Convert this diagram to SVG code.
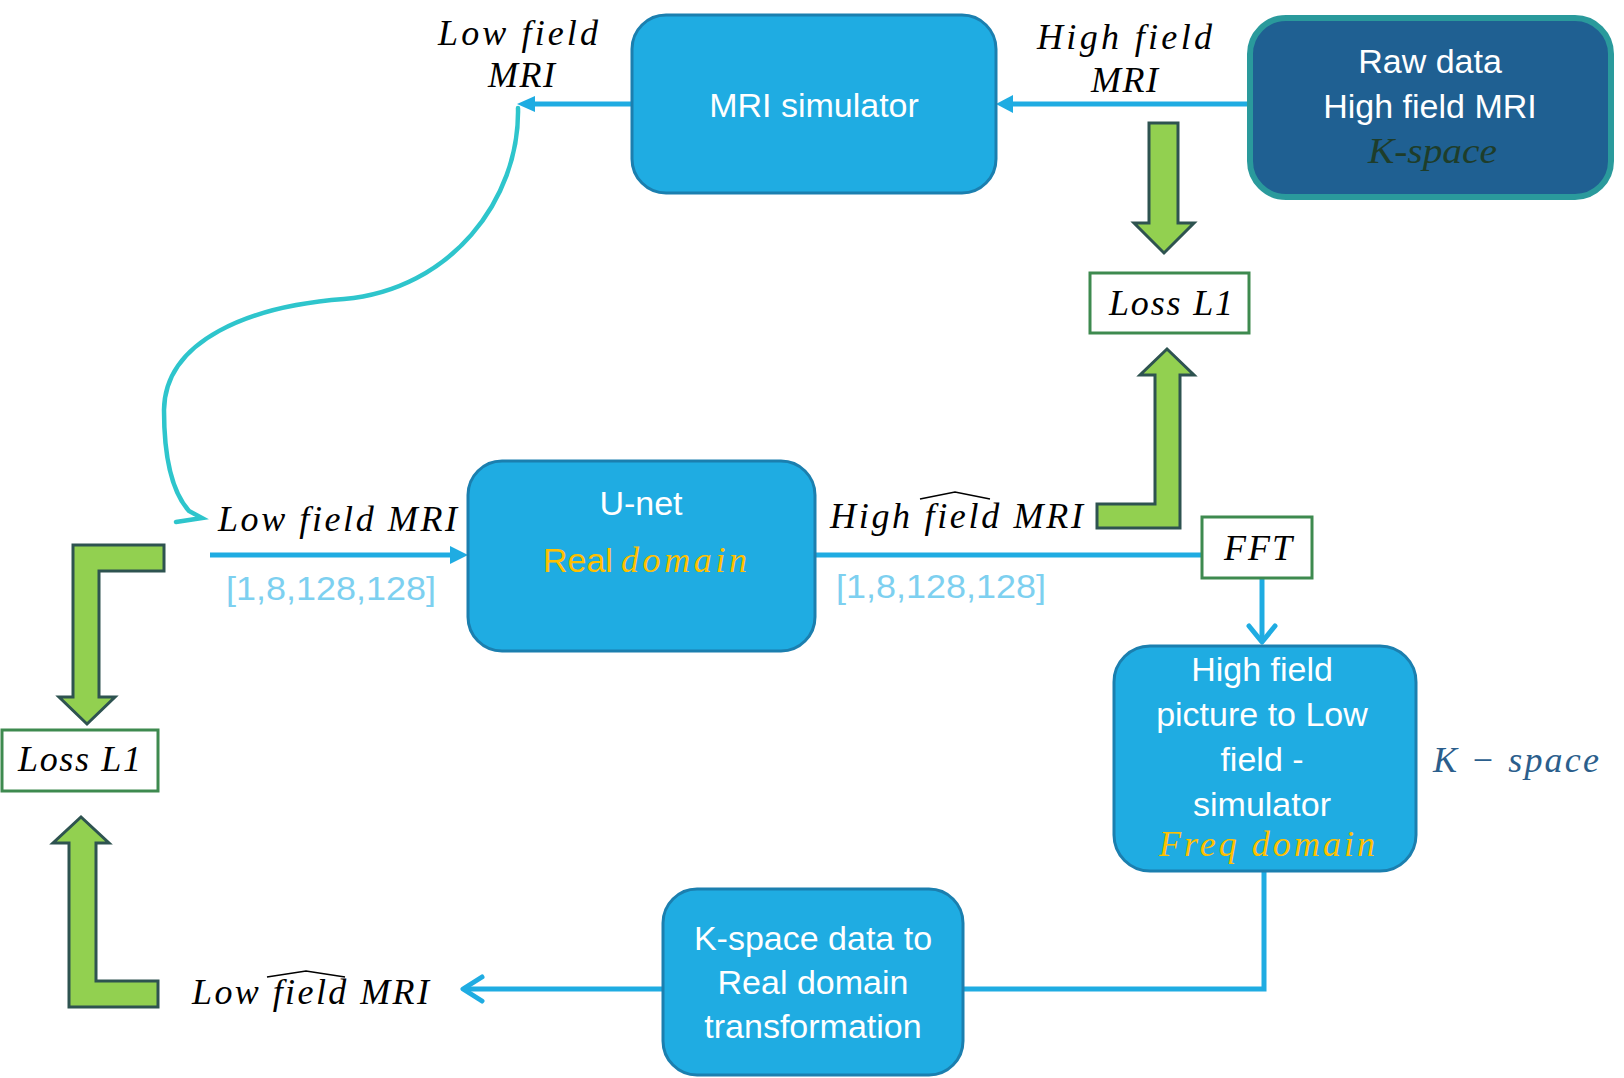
<svg xmlns="http://www.w3.org/2000/svg" width="1624" height="1078" viewBox="0 0 1624 1078">
<defs>
<style>
.box{fill:#1FACE2;stroke:#1B7FAF;stroke-width:3}
.raw{fill:#1F6092;stroke:#2A9A9C;stroke-width:6}
.loss{fill:#ffffff;stroke:#3E8A4F;stroke-width:3}
.green{fill:#92D050;stroke:#2E5350;stroke-width:3;stroke-linejoin:miter}
.wt{font-family:"Liberation Sans",Arial,sans-serif;font-size:34px;fill:#ffffff;text-anchor:middle}
.math{font-family:"Liberation Serif","Times New Roman",serif;font-style:italic;font-size:36px;fill:#000000}
.dims{font-family:"Liberation Sans",Arial,sans-serif;font-size:34px;fill:#7DD0F0}
.conn{fill:none;stroke:#1FACE2;stroke-width:5}
.chev{fill:none;stroke:#1FACE2;stroke-width:5;stroke-linecap:round;stroke-linejoin:round}
.hat{fill:none;stroke:#000000;stroke-width:1.6}
</style>
</defs>
<rect width="1624" height="1078" fill="#ffffff"/>

<g id="connectors">
  <!-- Raw data -> MRI simulator -->
  <line class="conn" x1="1250" y1="104" x2="1010" y2="104"/>
  <polygon points="996,104 1013,95 1013,113" fill="#1FACE2"/>
  <!-- MRI simulator -> low field MRI -->
  <line class="conn" x1="632" y1="104" x2="532" y2="104"/>
  <polygon points="517,104 535,96 535,112" fill="#1FACE2"/>
  <!-- teal curve -->
  <path d="M518,108 C520,200 450,290 344,299 C250,306 165,340 164,410 C164,460 172,492 189,511 L202,518 L176,522" fill="none" stroke="#2EC5CC" stroke-width="4.5" stroke-linecap="round" stroke-linejoin="miter"/>
  <!-- input -> U-net -->
  <line class="conn" x1="210" y1="555" x2="452" y2="555"/>
  <polygon points="468,555 450,546 450,564" fill="#1FACE2"/>
  <!-- U-net -> FFT -->
  <line class="conn" x1="815" y1="555" x2="1202" y2="555"/>
  <!-- FFT -> High field box -->
  <line class="conn" x1="1262" y1="579" x2="1262" y2="642"/>
  <polyline class="chev" points="1249,626 1262,642 1275,626"/>
  <!-- High field box -> K-space box -->
  <polyline class="conn" points="1264,871 1264,989 963,989"/>
  <!-- K-space box -> output -->
  <line class="conn" x1="663" y1="989" x2="464" y2="989"/>
  <polyline class="chev" points="482,977 463,989 482,1001"/>
</g>

<g id="green-arrows">
  <path id="arrow-down-top" class="green" d="M1149,123 H1178 V223 H1194 L1164,253 L1134,223 H1149 Z"/>
  <path id="arrow-up-right" class="green" d="M1097,504 H1155 V375 H1140 L1167,349 L1194,375 H1180 V528 H1097 Z"/>
  <path id="arrow-down-left" class="green" d="M164,545 V571 H99 V697 H115 L87,724 L59,697 H73 V545 Z"/>
  <path id="arrow-up-left" class="green" d="M158,981 V1007 H69 V843 H53 L81,817 L109,843 H96 V981 Z"/>
</g>

<g id="node-mri-simulator">
  <rect class="box" x="632" y="15" width="364" height="178" rx="34"/>
  <text class="wt" x="814" y="117">MRI simulator</text>
</g>

<g id="node-raw-data">
  <rect class="raw" x="1250" y="18" width="361" height="179" rx="36"/>
  <text class="wt" x="1430" y="73">Raw data</text>
  <text class="wt" x="1430" y="118">High field MRI</text>
  <text x="1368" y="163" textLength="129" lengthAdjust="spacingAndGlyphs" style="font-family:'Liberation Serif','Times New Roman',serif;font-style:italic;font-size:36px;fill:#1E3D2A">K-space</text>
</g>

<g id="label-low-field-top">
  <text class="math" x="438" y="45" textLength="160" lengthAdjust="spacing">Low field</text>
  <text class="math" x="488" y="87" textLength="67" lengthAdjust="spacing">MRI</text>
</g>

<g id="label-high-field-top">
  <text class="math" x="1037" y="49" textLength="175" lengthAdjust="spacing">High field</text>
  <text class="math" x="1091" y="92" textLength="67" lengthAdjust="spacing">MRI</text>
</g>

<g id="node-loss-top">
  <rect class="loss" x="1090" y="273" width="159" height="60"/>
  <text class="math" x="1109" y="315" textLength="124" lengthAdjust="spacing">Loss L1</text>
</g>

<g id="node-unet">
  <rect class="box" x="468" y="461" width="347" height="190" rx="34"/>
  <text class="wt" x="641" y="515">U-net</text>
  <text x="543" y="572" style="font-family:'Liberation Sans',Arial,sans-serif;font-size:34px;fill:#FFC000">Real</text>
  <text x="621" y="572" textLength="126" lengthAdjust="spacing" style="font-family:'Liberation Serif','Times New Roman',serif;font-style:italic;font-size:36px;fill:#FFC000">domain</text>
</g>

<g id="label-input">
  <text class="math" x="218" y="531" textLength="239" lengthAdjust="spacing">Low field MRI</text>
  <text class="dims" x="226" y="600" textLength="210" lengthAdjust="spacingAndGlyphs">[1,8,128,128]</text>
</g>

<g id="label-output">
  <text class="math" x="830" y="528" textLength="253" lengthAdjust="spacing">High field MRI</text>
  <path class="hat" d="M920,499 L955,492 L990,499"/>
  <text class="dims" x="836" y="598" textLength="210" lengthAdjust="spacingAndGlyphs">[1,8,128,128]</text>
</g>

<g id="node-fft">
  <rect class="loss" x="1202" y="517" width="110" height="61"/>
  <text class="math" x="1224" y="560" textLength="68" lengthAdjust="spacing">FFT</text>
</g>

<g id="node-high-to-low">
  <rect class="box" x="1114" y="646" width="302" height="225" rx="36"/>
  <text class="wt" x="1262" y="681">High field</text>
  <text class="wt" x="1262" y="726">picture to Low</text>
  <text class="wt" x="1262" y="771">field -</text>
  <text class="wt" x="1262" y="816">simulator</text>
  <text x="1159" y="856" textLength="216" lengthAdjust="spacing" style="font-family:'Liberation Serif','Times New Roman',serif;font-style:italic;font-size:36px;fill:#FFC000">Freq domain</text>
</g>

<g id="label-kspace">
  <text x="1433" y="772" textLength="166" lengthAdjust="spacing" style="font-family:'Liberation Serif','Times New Roman',serif;font-style:italic;font-size:36px;fill:#2B5E8C">K − space</text>
</g>

<g id="node-kspace-to-real">
  <rect class="box" x="663" y="889" width="300" height="186" rx="34"/>
  <text class="wt" x="813" y="950">K-space data to</text>
  <text class="wt" x="813" y="994">Real domain</text>
  <text class="wt" x="813" y="1038">transformation</text>
</g>

<g id="label-output-low">
  <text class="math" x="192" y="1004" textLength="237" lengthAdjust="spacing">Low field MRI</text>
  <path class="hat" d="M267,977 L306,971 L345,977"/>
</g>

<g id="node-loss-left">
  <rect class="loss" x="2" y="730" width="156" height="61"/>
  <text class="math" x="18" y="771" textLength="123" lengthAdjust="spacing">Loss L1</text>
</g>
</svg>
